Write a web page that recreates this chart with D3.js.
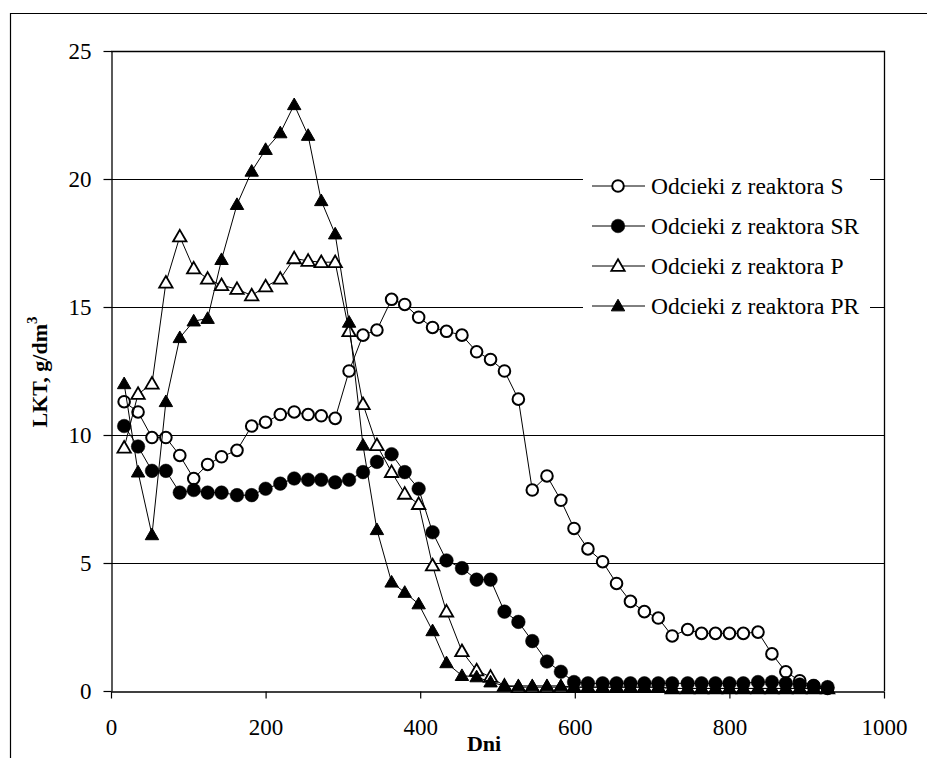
<!DOCTYPE html>
<html>
<head>
<meta charset="utf-8">
<script src="https://cdn.jsdelivr.net/npm/d3@7"></script>
<style>
  body { margin: 0; background: #fff; }
  svg { display: block; font-family: "Liberation Serif", "Times New Roman", serif; }
</style>
</head>
<body>
<svg id="chart" width="927" height="758"></svg>
<script>
// sampling days (shared by all series)
const days = [17, 35, 53, 71, 89, 107, 125, 143, 163, 182,
    200, 219, 237, 255, 272, 290, 308, 326, 344, 363,
    380, 398, 416, 434, 454, 473, 491, 509, 527, 545,
    564, 582, 599, 617, 636, 654, 672, 690, 708, 726,
    746, 764, 782, 800, 818, 837, 855, 873, 891, 909, 927];

const seriesS = [11.3, 10.9, 9.9, 9.9, 9.2, 8.3, 8.85, 9.15, 9.4, 10.35,
    10.5, 10.8, 10.9, 10.8, 10.75, 10.65, 12.5, 13.9, 14.1, 15.3,
    15.1, 14.6, 14.2, 14.05, 13.9, 13.25, 12.95, 12.5, 11.4, 7.85,
    8.4, 7.45, 6.35, 5.55, 5.05, 4.2, 3.5, 3.1, 2.85, 2.15,
    2.4, 2.25, 2.25, 2.25, 2.25, 2.3, 1.45, 0.75, 0.4, 0.2, 0.1];

const seriesSR = [10.35, 9.55, 8.6, 8.6, 7.75, 7.85, 7.75, 7.75, 7.65, 7.65,
    7.9, 8.1, 8.3, 8.25, 8.25, 8.15, 8.25, 8.55, 8.95, 9.25,
    8.55, 7.9, 6.2, 5.1, 4.8, 4.35, 4.35, 3.1, 2.7, 1.95,
    1.15, 0.75, 0.35, 0.3, 0.3, 0.3, 0.3, 0.3, 0.3, 0.3,
    0.3, 0.3, 0.3, 0.3, 0.3, 0.35, 0.35, 0.3, 0.25, 0.2, 0.15];

const seriesP = [9.5, 11.6, 12.0, 15.95, 17.75, 16.5, 16.1, 15.85, 15.7, 15.45,
    15.8, 16.1, 16.9, 16.8, 16.75, 16.75, 14.05, 11.2, 9.6, 8.55,
    7.7, 7.3, 4.9, 3.1, 1.55, 0.8, 0.55, 0.2, 0.15, 0.15,
    0.15, 0.15, 0.15, 0.15, 0.15, 0.15, 0.15, 0.15, 0.15, 0.1,
    0.1, 0.1, 0.1, 0.1, 0.1, 0.1, 0.1, 0.1, 0.1, 0.1, 0.1];

const seriesPR = [12.0, 8.55, 6.1, 11.3, 13.8, 14.45, 14.55, 16.85, 19.0, 20.3,
    21.15, 21.8, 22.9, 21.7, 19.15, 17.85, 14.4, 9.6, 6.3, 4.25,
    3.85, 3.4, 2.35, 1.1, 0.6, 0.55, 0.35, 0.2, 0.2, 0.2,
    0.2, 0.2, 0.15, 0.15, 0.15, 0.15, 0.15, 0.15, 0.15, 0.1,
    0.1, 0.1, 0.1, 0.1, 0.1, 0.1, 0.1, 0.1, 0.1, 0.1, 0.1];

const seriesNames = ["Odcieki z reaktora S", "Odcieki z reaktora SR",
    "Odcieki z reaktora P", "Odcieki z reaktora PR"];
const xTicks = [0, 200, 400, 600, 800, 1000];
const yTicks = [0, 5, 10, 15, 20, 25];

const svg = d3.select("#chart");

const x = d3.scaleLinear().domain([0, 1000]).range([111, 884]);
const y = d3.scaleLinear().domain([0, 25]).range([691, 51]);

// outer chart frame (only top and left visible in the crop)
svg.append("path")
    .attr("d", "M10.5,758 V13.5 H927")
    .attr("fill", "none")
    .attr("stroke", "#000")
    .attr("stroke-width", 1.2);

// gridlines
svg.append("g")
    .selectAll("line")
    .data(yTicks.filter(d => d > 0 && d < 25))
    .enter().append("line")
    .attr("x1", x(0)).attr("x2", x(1000))
    .attr("y1", d => Math.round(y(d)) + 0.5)
    .attr("y2", d => Math.round(y(d)) + 0.5)
    .attr("stroke", "#000");

// plot area border (top, right)
svg.append("path")
    .attr("d", `M${x(0)},${y(25) + 0.5} H${x(1000) + 0.5} V${y(0)}`)
    .attr("fill", "none")
    .attr("stroke", "#000")
    .attr("stroke-width", 1.3);

// axes
const xAxis = svg.append("g")
    .attr("transform", `translate(0,${y(0) + 0.5})`)
    .call(d3.axisBottom(x).tickValues(xTicks).tickFormat(d3.format("d"))
        .tickSize(7).tickSizeOuter(0).tickPadding(20));
const yAxis = svg.append("g")
    .attr("transform", `translate(${x(0) + 0.5},0)`)
    .call(d3.axisLeft(y).tickValues(yTicks).tickFormat(d3.format("d"))
        .tickSize(8).tickSizeOuter(0).tickPadding(12));

[xAxis, yAxis].forEach(a => {
    a.attr("font-family", null);
    a.select(".domain").attr("stroke", "#000").attr("stroke-width", 1.3);
    a.selectAll(".tick line").attr("stroke", "#000").attr("stroke-width", 1.2);
    a.selectAll("text")
        .attr("fill", "#000")
        .style("font-family", "'Liberation Serif', 'Times New Roman', serif")
        .style("font-size", "23px");
});
xAxis.selectAll("text").attr("dy", "0.71em");

// axis titles
svg.append("text")
    .attr("x", 484).attr("y", 751)
    .attr("text-anchor", "middle")
    .style("font-size", "22px")
    .style("font-weight", "bold")
    .text("Dni");

const yTitle = svg.append("text")
    .attr("transform", "translate(47,372) rotate(-90)")
    .attr("text-anchor", "middle")
    .style("font-size", "22px")
    .style("font-weight", "bold");
yTitle.append("tspan").text("LKT, g/dm");
yTitle.append("tspan").attr("dy", -10).style("font-size", "15px").text("3");

// series
const series = [
    { name: seriesNames[0], values: seriesS, shape: "circle", fill: "#fff" },
    { name: seriesNames[1], values: seriesSR, shape: "circle", fill: "#000" },
    { name: seriesNames[2], values: seriesP, shape: "triangle", fill: "#fff" },
    { name: seriesNames[3], values: seriesPR, shape: "triangle", fill: "#000" }
];

const line = d3.line().x(d => x(d[0])).y(d => y(d[1]));
const triangle = d3.symbol().type(d3.symbolTriangle).size(78);

function drawMarker(g, s) {
    if (s.shape === "circle") {
        g.append("circle")
            .attr("r", s.fill === "#000" ? 6.8 : 5.8)
            .attr("fill", s.fill)
            .attr("stroke", "#000")
            .attr("stroke-width", s.fill === "#000" ? 0.5 : 2);
    } else {
        g.append("path")
            .attr("d", triangle())
            .attr("transform", "translate(0,1)")
            .attr("fill", s.fill)
            .attr("stroke", "#000")
            .attr("stroke-width", s.fill === "#000" ? 1 : 1.8)
            .attr("stroke-linejoin", "miter");
    }
}

series.forEach(s => {
    const pts = days.map((d, i) => [d, s.values[i]]);
    const g = svg.append("g");
    g.append("path")
        .attr("d", line(pts))
        .attr("fill", "none")
        .attr("stroke", "#000")
        .attr("stroke-width", 1);
    g.selectAll("g.mk")
        .data(pts)
        .enter().append("g")
        .attr("class", "mk")
        .attr("transform", d => `translate(${x(d[0])},${y(d[1])})`)
        .each(function () { drawMarker(d3.select(this), s); });
});

// legend
const legend = svg.append("g");
legend.append("rect")
    .attr("x", 583).attr("y", 163)
    .attr("width", 287).attr("height", 162)
    .attr("fill", "#fff");

series.forEach((s, i) => {
    const ly = 186 + i * 40;
    const row = legend.append("g").attr("transform", `translate(0,${ly})`);
    row.append("line")
        .attr("x1", 592).attr("x2", 645)
        .attr("stroke", "#000").attr("stroke-width", 1);
    const m = row.append("g").attr("transform", "translate(618,0)");
    drawMarker(m, s);
    row.append("text")
        .attr("x", 651).attr("y", 0).attr("dy", "0.33em")
        .style("font-size", "23.5px")
        .text(s.name);
});
</script>
</body>
</html>
